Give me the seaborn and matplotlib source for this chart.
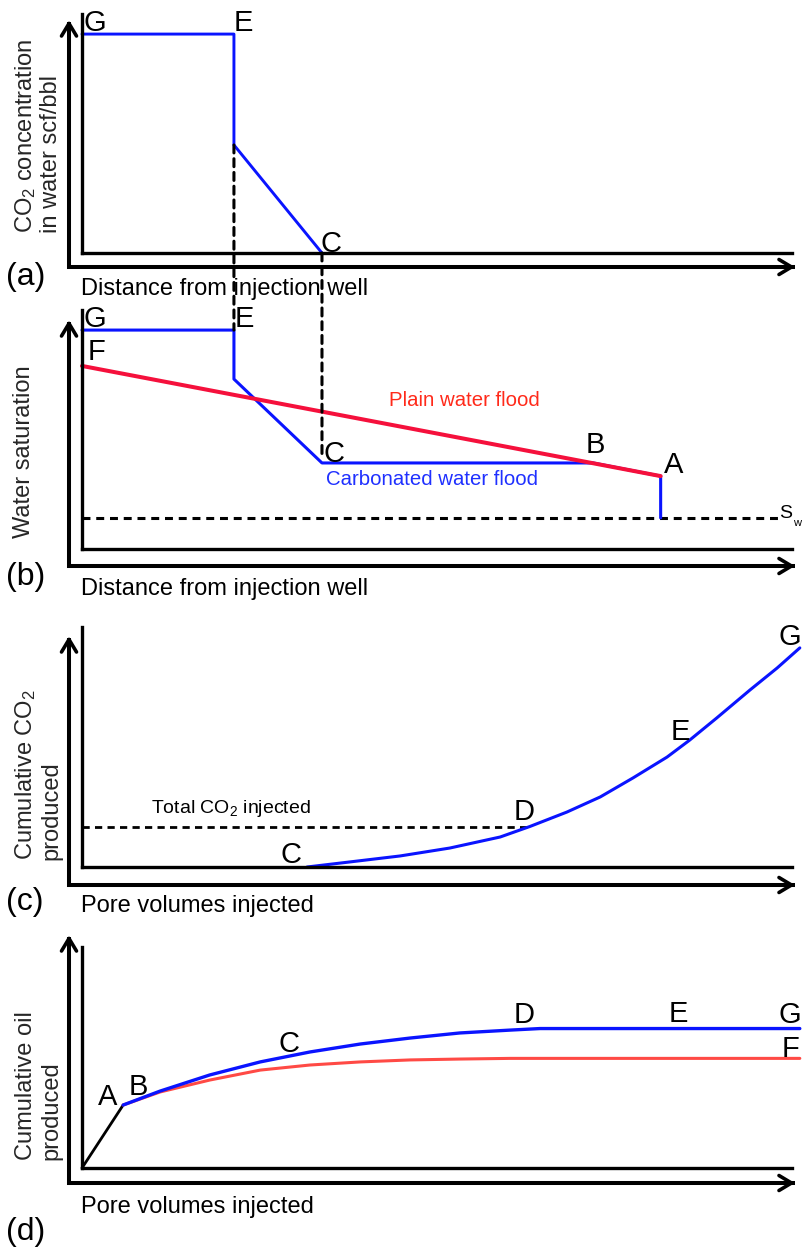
import matplotlib
matplotlib.use("Agg")
import matplotlib.pyplot as plt
import seaborn as sns
from matplotlib.patches import ConnectionPatch

# ---------------- data (schematic units: x 0-100 along axis, y 0-100) ----------------
# (a) CO2 concentration in water vs distance from injection well
a_x = [0.0, 21.4, 21.4, 33.8]
a_y = [91.6, 91.6, 45.2, 0.0]
# (b) water saturation profiles
b_carb_x = [0.0, 21.4, 21.4, 33.8, 72.0, 81.5, 81.5]
b_carb_y = [91.6, 91.6, 71.1, 36.0, 36.0, 30.5, 13.0]
b_plain_x = [0.0, 81.5]
b_plain_y = [76.6, 30.5]
b_swi_x = [0.0, 98.3]
b_swi_y = [13.0, 13.0]
b_dash_top = 38.5
# (c) cumulative CO2 produced vs pore volumes injected
c_x = [31.7, 37.7, 44.8, 51.8, 58.9, 63.1, 68.3, 73.0, 77.6, 82.4, 85.6, 89.4, 94.1, 97.9, 101.1]
c_y = [0.0, 2.1, 4.6, 7.9, 12.5, 16.9, 22.9, 29.2, 37.1, 45.8, 52.9, 62.1, 73.8, 82.9, 91.3]
c_total_x = [0.0, 63.1]
c_total_y = [16.8, 16.8]
# (d) cumulative oil produced vs pore volumes injected
d_pre_x = [0.0, 5.8]
d_pre_y = [0.0, 28.5]
d_carb_x = [5.8, 11.0, 18.0, 25.1, 32.1, 39.2, 46.2, 53.2, 60.3, 64.5, 101.1]
d_carb_y = [28.5, 34.8, 42.1, 48.0, 52.5, 56.1, 58.8, 61.1, 62.4, 63.1, 63.1]
d_plain_x = [5.8, 11.0, 18.0, 25.1, 32.1, 39.2, 46.2, 53.2, 60.3, 64.5, 101.1]
d_plain_y = [28.5, 34.4, 39.8, 44.3, 46.6, 48.0, 48.9, 49.3, 49.6, 49.6, 49.6]

BLUE = "#0a14ff"
RED_B = "#f5103c"
RED_D = "#ff4a45"
TXT_RED = "#ff2a1a"
TXT_BLUE = "#1f30ff"

sns.set_theme(style="white")
plt.rcParams["font.family"] = ["Liberation Sans", "DejaVu Sans"]
plt.rcParams["mathtext.fontset"] = "custom"
plt.rcParams["mathtext.rm"] = "Liberation Sans"
plt.rcParams["mathtext.default"] = "regular"

W, H = 803, 1249
fig = plt.figure(figsize=(W / 100, H / 100), dpi=100)
fig.patch.set_facecolor("white")

X0, X100, XR = 82, 792, 803
PXU = (X100 - X0) / 100.0


def fx(px):
    return px / W


def fy(py):
    return 1 - py / H


def panel(top, bottom, off, tip):
    ax = fig.add_axes([fx(X0), fy(bottom), (XR - X0) / W, (bottom - top) / H])
    ax.set_xlim(0, (XR - X0) / PXU)
    ax.set_ylim(0, 100)
    ax.set_facecolor("none")
    for s in ("top", "right"):
        ax.spines[s].set_visible(False)
    for s in ("left", "bottom"):
        ax.spines[s].set_linewidth(2.4)
        ax.spines[s].set_color("black")
        ax.spines[s].set_bounds(0, 100)
        ax.spines[s].set_capstyle("projecting")
    ax.set_xticks([])
    ax.set_yticks([])
    # outer arrow axes
    wpx, hpx = XR - X0, bottom - top
    cx = (69 - X0) / wpx
    cy = -off / hpx
    vy = (bottom - tip) / hpx
    hx = (795 - X0) / wpx
    ax.plot([cx, cx, hx], [vy, cy, cy], transform=ax.transAxes, clip_on=False,
            color="black", lw=2.9, solid_joinstyle="miter", solid_capstyle="butt")
    ap = dict(arrowstyle="->,head_length=0.75,head_width=0.45", lw=2.6, color="black",
              shrinkA=0, shrinkB=0, mutation_scale=12)
    ax.annotate("", xy=(cx, vy + 2 / hpx), xytext=(cx, vy - 20 / hpx),
                xycoords="axes fraction", arrowprops=ap, annotation_clip=False)
    ax.annotate("", xy=(hx, cy), xytext=(hx - 20 / wpx, cy),
                xycoords="axes fraction", arrowprops=ap, annotation_clip=False)
    return ax


ax_a = panel(14, 253, 14, 22)
ax_b = panel(310, 549, 17, 322)
ax_c = panel(627, 867, 18, 638)
ax_d = panel(947, 1168, 15, 937)

# ---- (a)
sns.lineplot(x=a_x, y=a_y, sort=False, estimator=None, color=BLUE, lw=2.1, ax=ax_a,
             clip_on=False)
# ---- (b)
ax_b.plot(b_swi_x, b_swi_y, color="black", lw=2.2, linestyle=(0, (2.6, 1.9)), clip_on=False)
sns.lineplot(x=b_carb_x, y=b_carb_y, sort=False, estimator=None, color=BLUE, lw=2.2,
             ax=ax_b, clip_on=False)
sns.lineplot(x=b_plain_x, y=b_plain_y, sort=False, estimator=None, color=RED_B, lw=2.9,
             ax=ax_b, clip_on=False)
# ---- (c)
ax_c.plot(c_total_x, c_total_y, color="black", lw=2.0, linestyle=(0, (2.6, 1.9)), clip_on=False)
sns.lineplot(x=c_x, y=c_y, sort=False, estimator=None, color=BLUE, lw=2.2, ax=ax_c,
             clip_on=False)
# ---- (d)
sns.lineplot(x=d_pre_x, y=d_pre_y, sort=False, estimator=None, color="black", lw=2.0,
             ax=ax_d, clip_on=False)
sns.lineplot(x=d_plain_x, y=d_plain_y, sort=False, estimator=None, color=RED_D, lw=2.2,
             ax=ax_d, clip_on=False)
sns.lineplot(x=d_carb_x, y=d_carb_y, sort=False, estimator=None, color=BLUE, lw=2.4,
             ax=ax_d, clip_on=False)

# dashed connectors between panel (a) and (b)
for xa, ya, xb, yb in [(a_x[1], a_y[2], b_carb_x[1], b_carb_y[0]),
                       (a_x[3], a_y[3], b_carb_x[3], b_dash_top)]:
    con = ConnectionPatch(xyA=(xa, ya), coordsA=ax_a.transData,
                          xyB=(xb, yb), coordsB=ax_b.transData,
                          color="black", lw=2.2, linestyle=(0, (2.6, 1.9)))
    fig.add_artist(con)

# ---------------- text ----------------
LBL = 21


def txt(x, y, s, size=LBL, color="black", **kw):
    fig.text(fx(x), fy(y), s, fontsize=size, color=color, ha="left", va="baseline", **kw)


def vtxt(xb, y0, s, size=17):
    fig.text(fx(xb), fy(y0), s, fontsize=size, rotation=90, rotation_mode="anchor",
             ha="left", va="baseline")


# point letters
for x, y, s in [(84, 31, "G"), (234, 31, "E"), (321, 252, "C"),
                (84, 327, "G"), (235, 327, "E"), (88, 360, "F"), (324, 462, "C"),
                (586, 453, "B"), (664, 473, "A"),
                (281, 863, "C"), (514, 820, "D"), (671, 740, "E"), (779, 645, "G"),
                (98, 1105, "A"), (129, 1095, "B"), (279, 1052, "C"), (514, 1023, "D"),
                (669, 1022, "E"), (779, 1023, "G"), (782, 1057, "F")]:
    txt(x, y, s)

txt(779, 518, "S", size=14)
txt(793, 526, "w", size=8)

txt(389, 406, "Plain water flood", size=14.7, color=TXT_RED)
txt(326, 485, "Carbonated water flood", size=14.7, color=TXT_BLUE)
txt(151, 813, "Total CO$_2$ injected", size=14)

# x labels and panel tags
txt(81, 295, "Distance from injection well", size=17)
txt(81, 595, "Distance from injection well", size=17)
txt(81, 912, "Pore volumes injected", size=17)
txt(81, 1213, "Pore volumes injected", size=17)
txt(6, 285, "(a)", size=23)
txt(6, 585, "(b)", size=23)
txt(6, 910, "(c)", size=23)
txt(6, 1240, "(d)", size=23)

# y labels
vtxt(32, 233, "CO$_2$ concentration")
vtxt(57, 233, "in water scf/bbl")
vtxt(30, 538, "Water saturation")
vtxt(32, 860, "Cumulative CO$_2$")
vtxt(57, 860, "produced")
vtxt(32, 1160, "Cumulative oil")
vtxt(57, 1160, "produced")

fig.savefig("out.png", dpi=100, facecolor="white")
